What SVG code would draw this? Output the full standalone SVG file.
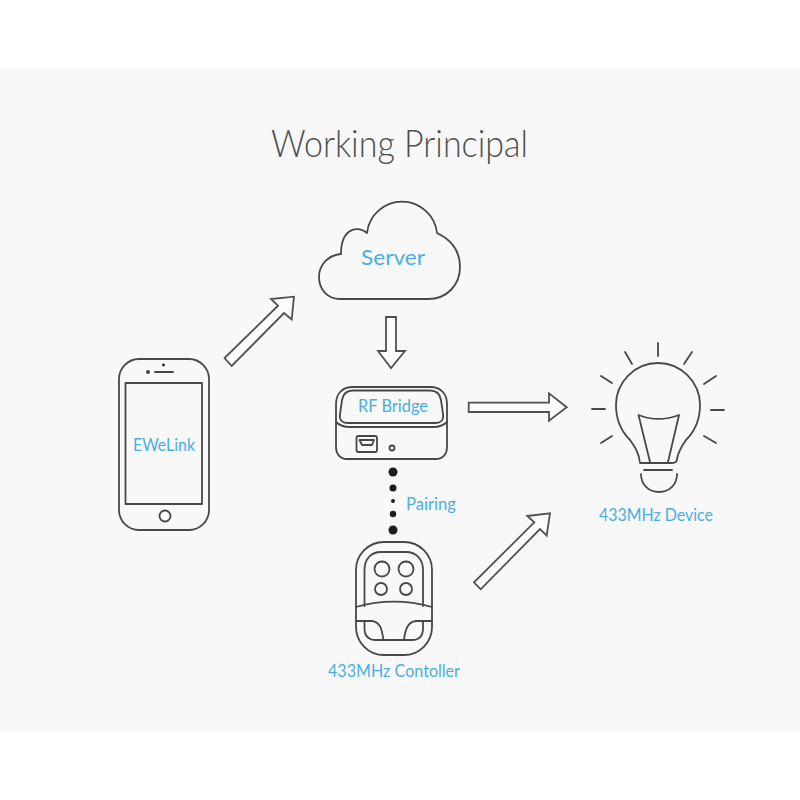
<svg xmlns="http://www.w3.org/2000/svg" width="800" height="800" viewBox="0 0 800 800">
<style>
.l{fill:none;stroke:#484848;stroke-width:1.800;stroke-linejoin:round;stroke-linecap:round}
.a{fill:#fbfbfb;stroke:#505050;stroke-width:1.800;stroke-linejoin:miter}
.t{font-family:Lato,"Open Sans","Liberation Sans",sans-serif;font-weight:400;fill:#4aaee4;font-size:18px}
.d{fill:#1d1d1d}
</style>
<rect width="800" height="800" fill="#ffffff"/>
<rect y="67" width="800" height="666" fill="#f8f8f8"/>
<text x="271" y="157" textLength="257" lengthAdjust="spacingAndGlyphs" style="font-family:Lato,'Open Sans','Liberation Sans',sans-serif;font-weight:300;font-size:38px;fill:#4f4f4f">Working Principal</text>
<g id="connectors">
<path class="a" d="M224.500 358 L231.700 366 L284 313 L291.700 319.500 L294 296.700 L271 299 L278 305.700 Z"/>
<path class="a" d="M386 317 H396 V351 H405 L391 368 L378 351 H386 Z"/>
<path class="a" d="M468.700 402.700 H549 V393.300 L566.700 407.300 L549 420.700 V412 H468.700 Z"/>
<path class="a" d="M474 582.300 L480.700 589.300 L540 529 L546.700 535.700 L550 513.300 L527.300 516 L534.300 522.300 Z"/>
<g id="pairing-dots">
<circle class="d" cx="393" cy="472" r="4.500"/>
<circle class="d" cx="393" cy="488" r="3.500"/>
<circle class="d" cx="393" cy="501" r="2"/>
<circle class="d" cx="393" cy="514" r="3.200"/>
<circle class="d" cx="393" cy="530" r="4.500"/>
</g>
<text class="t" x="406" y="510" textLength="50" lengthAdjust="spacingAndGlyphs">Pairing</text>
</g>
<g id="phone">
<rect class="l" x="119" y="359" width="90" height="171" rx="20"/>
<rect class="l" x="125.500" y="383" width="76.500" height="121"/>
<circle class="l" cx="165" cy="516" r="5.500"/>
<path class="l" d="M155 372 H173" stroke-width="2.200"/>
<circle cx="148" cy="372" r="2" fill="#444"/>
<circle class="d" cx="163.500" cy="365" r="1.400"/>
<text class="t" x="133" y="451" textLength="62" lengthAdjust="spacingAndGlyphs">EWeLink</text>
</g>
<g id="server">
<path class="l" d="M340 299 H428 C447 299 460 285 460 267 C460 251 452 240 437 233 A35.200 35.200 0 0 0 367 233 C360 226 341 226 341 254 C328 255 319 265 319 277 C319 290 328 299 340 299 Z"/>
<text class="t" x="361" y="265" textLength="64" lengthAdjust="spacingAndGlyphs" style="font-size:22px">Server</text>
</g>
<g id="rf-bridge">
<path class="l" d="M353 387 H430 C441 387 447 394 447 404 V447 C447 454 443 459 436 459 H347 C340 459 336 454 336 447 V404 C336 394 342 387 353 387 Z"/>
<path class="l" d="M353 390.500 H430 C437 390.500 440 394 441 400 L443 414 C444 420 441 423 435 423 H348 C342 423 339 420 340 414 L342 400 C343 394 346 390.500 353 390.500 Z"/>
<path class="l" d="M336 422 C340 426 344 427 350 427 H433 C439 427 443 426 447 422"/>
<rect class="l" x="356.500" y="436" width="20.500" height="16" rx="2"/>
<path class="l" d="M359.500 440 H374 L372 445 H362 Z"/>
<circle class="l" cx="392" cy="448" r="2.500" stroke-width="1.500"/>
<text class="t" x="358" y="412" textLength="70" lengthAdjust="spacingAndGlyphs">RF Bridge</text>
</g>
<g id="controller">
<rect class="l" x="356" y="542" width="76" height="113" rx="28"/>
<path class="l" d="M364.500 606 V570 C364.500 559 371 552 381 552 H406 C416 552 423 559 423 570 V606"/>
<path class="l" d="M364.500 621 V628 C364.500 636 369 640 376 640 H412 C419 640 423 636 423 628 V621"/>
<path class="l" d="M356 607 C381 600 407 600 432 607"/>
<path class="l" d="M356 621 H372 C381 622 382 631 383.500 640 M432 621 H416 C407 622 405 631 404 640"/>
<path class="l" d="M383.500 640 H404" stroke-width="2.500"/>
<circle class="l" cx="382" cy="569" r="7.500"/>
<circle class="l" cx="406" cy="569" r="7.500"/>
<circle class="l" cx="381" cy="589" r="6"/>
<circle class="l" cx="406" cy="589" r="6"/>
<text class="t" x="328" y="677" textLength="132" lengthAdjust="spacingAndGlyphs">433MHz Contoller</text>
</g>
<g id="device">
<path class="l" d="M658 343 V356 M625 352 L632 364 M692 352 L684 364 M601 376 L612 383 M716 376 L704 384 M592 409 H605 M711 410 H724 M601 443 L612 436 M716 443 L704 436"/>
<path class="l" d="M640 463 C639 453 635 447 630 440 C621 431 616 419 616 405 C616 382 635 363 658 363 C681 363 700 382 700 405 C700 419 695 431 686 440 C681 447 678 453 677 459 C677 462 675 463 672 463 Z"/>
<path class="l" d="M650 462 L638.500 415 C651 420 666 420 679 415 L668 462"/>
<path class="l" d="M644 470 H672"/>
<path class="l" d="M641 474 C641 485 649 492 659 492 C669 492 677 485 677 474"/>
<text class="t" x="599" y="521" textLength="114" lengthAdjust="spacingAndGlyphs">433MHz Device</text>
</g>
</svg>
